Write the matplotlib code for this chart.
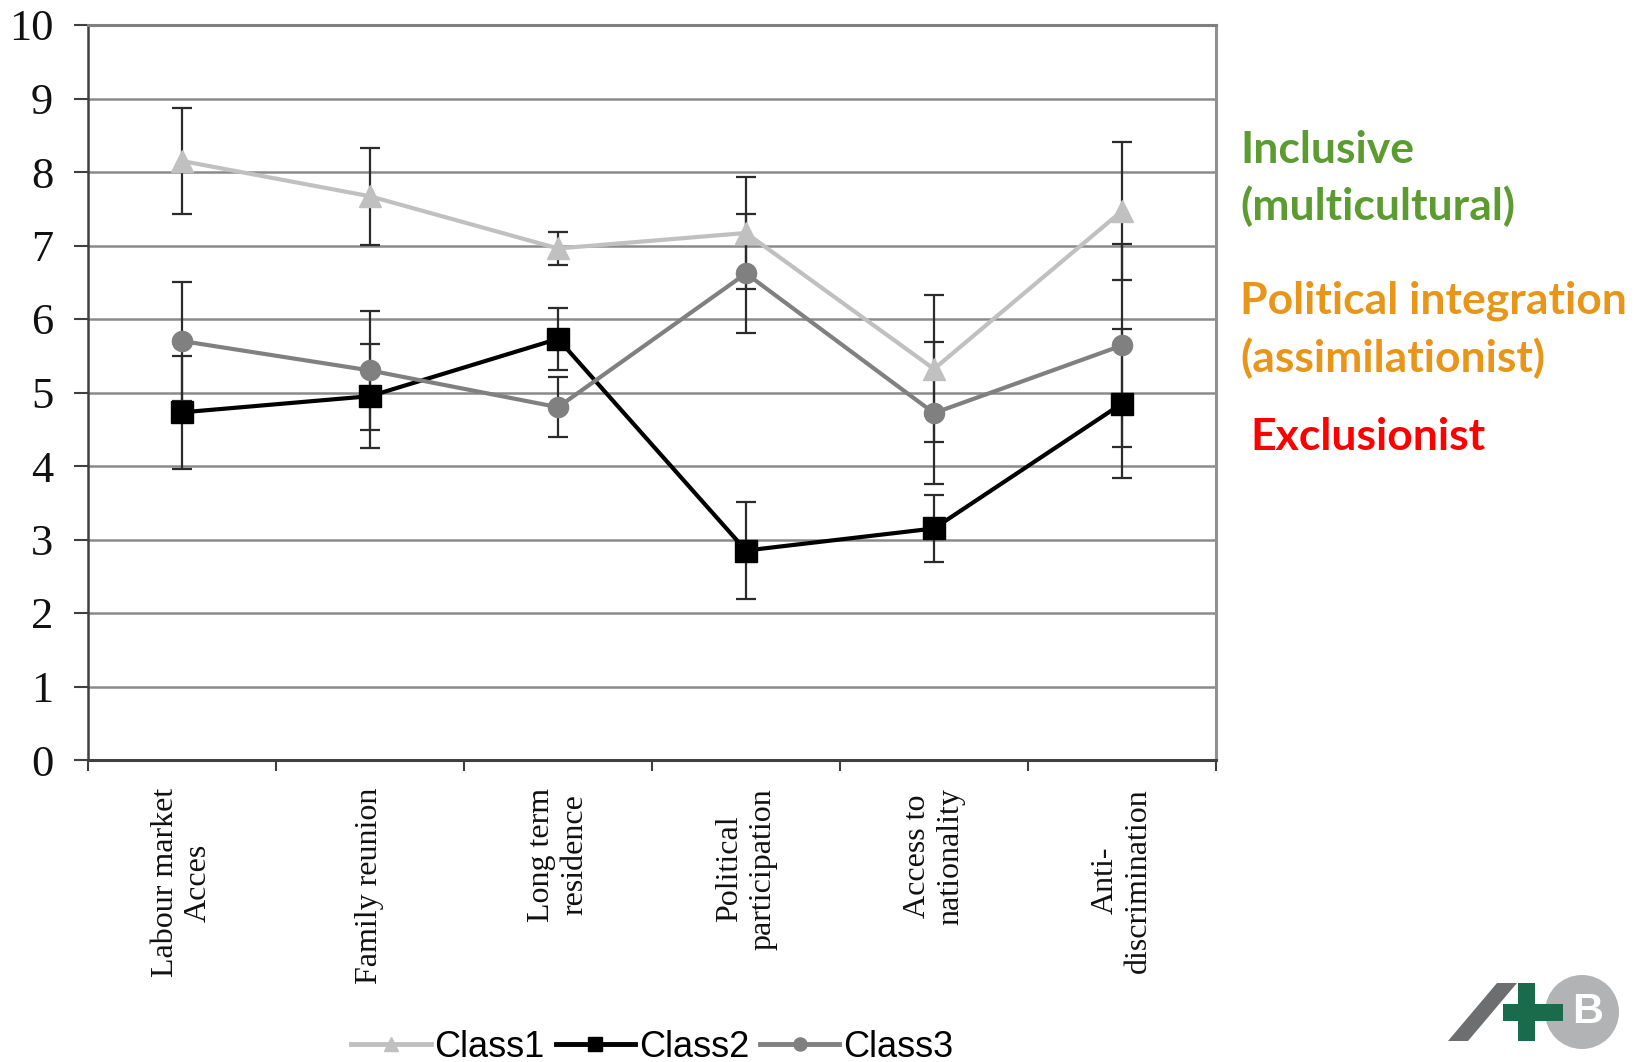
import numpy as np
import matplotlib.pyplot as plt
from matplotlib.patches import Polygon, Circle, Rectangle

# policy dimensions on the x axis
dimensions = ["Labour market\nAcces", "Family reunion", "Long term\nresidence",
              "Political\nparticipation", "Access to\nnationality", "Anti-\ndiscrimination"]

# class means and error bar half-widths
class1 = [8.15, 7.67, 6.96, 7.17, 5.32, 7.47]
class1_err = [0.72, 0.66, 0.23, 0.76, 1.00, 0.94]
class2 = [4.73, 4.95, 5.73, 2.85, 3.15, 4.85]
class2_err = [0.77, 0.71, 0.42, 0.66, 0.45, 1.01]
class3 = [5.70, 5.30, 4.80, 6.62, 4.72, 5.64]
class3_err = [0.81, 0.81, 0.41, 0.81, 0.97, 1.38]

series = [
    ("Class1", class1, class1_err, "#c0c0c0", "^", 16.5),
    ("Class2", class2, class2_err, "#000000", "s", 15.5),
    ("Class3", class3, class3_err, "#808080", "o", 14.5),
]

fig = plt.figure(figsize=(16.43, 10.62), dpi=100)
ax = fig.add_axes([88 / 1643, 302 / 1062, 1128 / 1643, 735 / 1062])

x = np.arange(len(dimensions))

for name, vals, err, col, mk, ms in series:
    ax.errorbar(x, vals, yerr=err, fmt="none", ecolor="#2b2b2b", elinewidth=1.6,
                capsize=7, capthick=1.6, zorder=3)
for name, vals, err, col, mk, ms in series:
    ax.plot(x, vals, color=col, lw=3, marker=mk, markersize=ms,
            markerfacecolor=col, markeredgecolor=col, label=name, zorder=4)

ax.set_xlim(-0.5, len(dimensions) - 0.5)
ax.set_ylim(0, 10)
ax.set_yticks(range(0, 11))
for v in range(1, 11):
    ax.axhline(v, color="#8a8a8a", lw=1.8, zorder=1)

# category boundaries carry the tick marks, names sit in between
ax.set_xticks(np.arange(-0.5, len(dimensions)), labels=[""] * (len(dimensions) + 1))
ax.set_xticks(x, labels=dimensions, minor=True)
ax.tick_params(axis="x", which="major", direction="out", length=8, width=1.5, color="#404040")
ax.tick_params(axis="x", which="minor", length=0, pad=20)
ax.tick_params(axis="y", direction="out", length=10, width=1.5, color="#404040", pad=15)

for lab in ax.get_xticklabels(minor=True):
    lab.set_rotation(90)
    lab.set_ha("center")
    lab.set_va("top")
    lab.set_multialignment("center")
    lab.set_fontfamily("Liberation Serif")
    lab.set_fontsize(23)
    lab.set_color("#111111")
for lab in ax.get_yticklabels():
    lab.set_fontfamily("Liberation Serif")
    lab.set_fontsize(32)
    lab.set_color("#111111")

ax.spines["left"].set_color("#404040")
ax.spines["left"].set_linewidth(1.8)
ax.spines["bottom"].set_color("#404040")
ax.spines["bottom"].set_linewidth(2.2)
ax.spines["right"].set_color("#909090")
ax.spines["right"].set_linewidth(2.2)
ax.spines["top"].set_color("#808080")
ax.spines["top"].set_linewidth(2.2)

leg = fig.legend(loc="lower center", bbox_to_anchor=(0.397, -0.033), ncol=3,
                 frameon=False, prop={"family": "Liberation Sans", "size": 26},
                 markerscale=0.65, handlelength=2.2, handletextpad=0.1, columnspacing=0.3)
for h in leg.legend_handles:
    h.set_linewidth(3.5)

# class interpretation notes on the right
notes = [
    ("Inclusive", 1240, 163, "#5b9b30"),
    ("(multicultural)", 1240, 220, "#5b9b30"),
    ("Political integration", 1240, 313, "#e8961a"),
    ("(assimilationist)", 1240, 372, "#e8961a"),
    ("Exclusionist", 1250, 450, "#ff0000"),
]
for txt, px, py, col in notes:
    fig.text(px / 1643, 1 - py / 1062, txt, color=col, fontsize=32, fontweight="bold",
             family="Lato", ha="left", va="baseline")

# logo in the lower right corner, laid out in inches
def pt(px, py):
    return (px / 100, (1062 - py) / 100)

tr = fig.dpi_scale_trans
fig.add_artist(Polygon([pt(1448, 1041), pt(1468, 1041), pt(1517, 983), pt(1497, 983)],
                       closed=True, facecolor="#6d6e70", edgecolor="none", transform=tr))
fig.add_artist(Circle(pt(1582, 1012), 0.37, facecolor="#b1b3b4", edgecolor="none", transform=tr))
fig.text(1588 / 1643, 1 - 1012 / 1062, "B", color="white", fontsize=31, fontweight="bold",
         family="Liberation Sans", ha="center", va="center")
x0, y0 = pt(1518, 1041)
fig.add_artist(Rectangle((x0, y0), 0.17, 0.58, facecolor="#1a6a4c", edgecolor="none", transform=tr))
x0, y0 = pt(1503, 1021)
fig.add_artist(Rectangle((x0, y0), 0.60, 0.17, facecolor="#1a6a4c", edgecolor="none", transform=tr))

fig.savefig("out.png", dpi=100)
